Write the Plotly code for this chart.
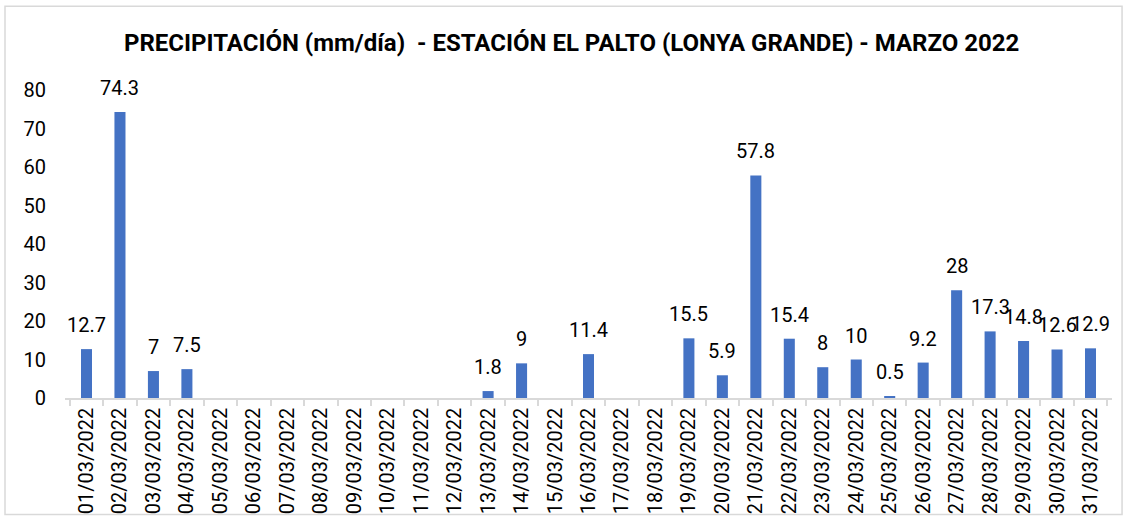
import plotly.graph_objects as go

dates = [f"{d:02d}/03/2022" for d in range(1, 32)]
precip = [12.7, 74.3, 7, 7.5, 0, 0, 0, 0, 0, 0, 0, 0, 1.8, 9, 0, 11.4, 0, 0,
          15.5, 5.9, 57.8, 15.4, 8, 10, 0.5, 9.2, 28, 17.3, 14.8, 12.6, 12.9]
title_text = "PRECIPITACIÓN (mm/día)  - ESTACIÓN EL PALTO (LONYA GRANDE) - MARZO 2022"
y_ticks = [0, 10, 20, 30, 40, 50, 60, 70, 80]

FONT = "Roboto, Liberation Sans, sans-serif"

fig = go.Figure()
fig.add_trace(go.Bar(x=dates, y=precip, marker_color="#4472C4",
                     marker_line_width=0, hoverinfo="x+y"))

for d, v in zip(dates, precip):
    if v != 0:
        fig.add_annotation(x=d, y=v, text=f"{v:g}", showarrow=False,
                           yanchor="middle", yshift=24,
                           font=dict(family=FONT, size=20, color="#000000"))

fig.add_shape(type="rect", xref="paper", yref="paper",
              x0=-0.0573, x1=1.0096, y0=-0.3786, y1=1.272,
              line=dict(color="#D9D9D9", width=1.5), fillcolor="rgba(0,0,0,0)")

fig.update_layout(
    width=1132, height=522,
    margin=dict(l=65, r=20, t=90, b=124),
    paper_bgcolor="white", plot_bgcolor="white",
    bargap=0.67,
    showlegend=False,
    font=dict(family=FONT, size=20, color="#000000"),
    title=dict(text=f"<b>{title_text}</b>", x=0.505, xanchor="center",
               y=1 - 43 / 522, yanchor="middle", yref="container",
               font=dict(family=FONT, size=24, color="#000000")),
)
fig.update_xaxes(type="category", tickangle=-90, showgrid=False, automargin=False,
                 showline=True, linecolor="#D9D9D9", linewidth=1.5,
                 ticks="outside", tickson="boundaries", ticklen=6,
                 tickcolor="#D9D9D9", tickwidth=1.5,
                 tickfont=dict(family=FONT, size=20, color="#000000"))
fig.update_yaxes(range=[0, 80], tickvals=y_ticks, showgrid=False, automargin=False,
                 showline=False, zeroline=False, ticks="",
                 ticklabelstandoff=18,
                 tickfont=dict(family=FONT, size=20, color="#000000"))

fig.write_html("out.html", config={"displayModeBar": False},
               post_script="document.body.style.margin='0';document.body.style.overflow='hidden';")
